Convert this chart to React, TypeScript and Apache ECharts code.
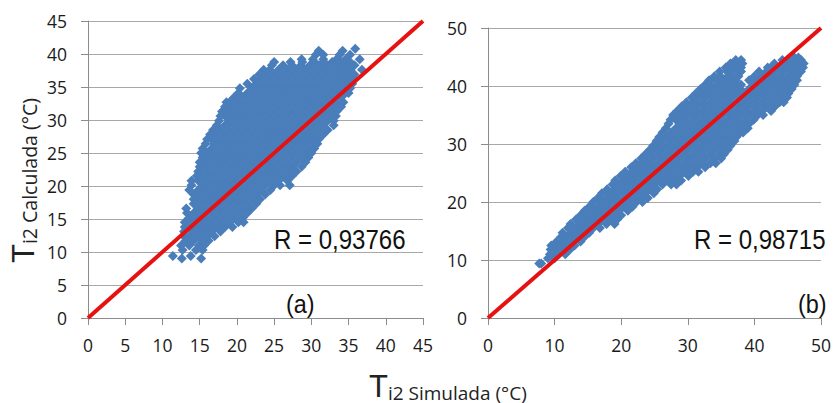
import React, { useEffect, useRef } from "react";
import * as echarts from "echarts";

const ticksA = [0, 5, 10, 15, 20, 25, 30, 35, 40, 45];
const ticksB = [0, 10, 20, 30, 40, 50];
const lineA = [[0, 0], [45, 45]];
const lineB = [[0, 0], [50, 50]];
const labelA = "R = 0,93766";
const labelB = "R = 0,98715";

// Scatter points, one [y, x values] entry per horizontal band.
const rowsA: [number, number[]][] = [
  [9.0, [12.6, 15.2]],
  [9.4, [11.4, 13.8]],
  [10.3, [12.7, 14.5, 15.4]],
  [11, [12.5, 13.6, 14.9, 15.6]],
  [11.7, [13.1, 14.2, 15.4, 16.2]],
  [12.4, [12.9, 13.6, 14.8, 16, 17.0]],
  [13.1, [12.9, 14.2, 15.4, 16.6, 17.8]],
  [13.8, [13, 13.6, 14.8, 16, 17.2, 18.4, 19.4]],
  [14.5, [13, 14.2, 15.4, 16.6, 17.8, 19, 20.2, 20.9]],
  [15.2, [13.6, 14.8, 16, 17.2, 18.4, 19.6, 20.8]],
  [15.9, [13.3, 14.2, 15.4, 16.6, 17.8, 19, 20.2, 21.4]],
  [16.6, [13.2, 14.8, 16, 17.2, 18.4, 19.6, 20.8, 22]],
  [17.3, [14.2, 15.4, 16.6, 17.8, 19, 20.2, 21.4, 22.6]],
  [18, [14.2, 14.8, 16, 17.2, 18.4, 19.6, 20.8, 22, 23.1]],
  [18.7, [14.2, 15.4, 16.6, 17.8, 19, 20.2, 21.4, 22.6, 23.8]],
  [19.4, [13.6, 14.8, 16, 17.2, 18.4, 19.6, 20.8, 22, 23.2, 24.5]],
  [20.1, [13.9, 15.4, 16.6, 17.8, 19, 20.2, 21.4, 22.6, 23.8, 25, 25.8, 27.1]],
  [20.8, [13.9, 14.8, 16, 17.2, 18.4, 19.6, 20.8, 22, 23.2, 24.4, 25.6, 26.8]],
  [21.5, [14.6, 15.4, 16.6, 17.8, 19, 20.2, 21.4, 22.6, 23.8, 25, 26.2, 27.4]],
  [22.2, [14.8, 16, 17.2, 18.4, 19.6, 20.8, 22, 23.2, 24.4, 25.6, 26.8, 28]],
  [22.9, [15, 15.4, 16.6, 17.8, 19, 20.2, 21.4, 22.6, 23.8, 25, 26.2, 27.4, 28.7]],
  [23.6, [15, 16, 17.2, 18.4, 19.6, 20.8, 22, 23.2, 24.4, 25.6, 26.8, 28, 29.2]],
  [24.3, [15.4, 16.6, 17.8, 19, 20.2, 21.4, 22.6, 23.8, 25, 26.2, 27.4, 28.6, 29.6]],
  [25, [15.2, 16, 17.2, 18.4, 19.6, 20.8, 22, 23.2, 24.4, 25.6, 26.8, 28, 29.2, 30]],
  [25.7, [15.4, 16.6, 17.8, 19, 20.2, 21.4, 22.6, 23.8, 25, 26.2, 27.4, 28.6, 29.8, 30.4]],
  [26.4, [15.8, 16.9, 17.2, 18.4, 19.6, 20.8, 22, 23.2, 24.4, 25.6, 26.8, 28, 29.2, 30.4, 30.8]],
  [27.1, [16, 16.6, 17.8, 19, 20.2, 21.4, 22.6, 23.8, 25, 26.2, 27.4, 28.6, 29.8, 31]],
  [27.8, [16.4, 17.2, 18.4, 19.6, 20.8, 22, 23.2, 24.4, 25.6, 26.8, 28, 29.2, 30.4, 31.6]],
  [28.5, [16.8, 17.8, 19, 20.2, 21.4, 22.6, 23.8, 25, 26.2, 27.4, 28.6, 29.8, 31, 32.2]],
  [29.2, [17.3, 18.4, 19.6, 20.8, 22, 23.2, 24.4, 25.6, 26.8, 28, 29.2, 30.4, 31.6, 33]],
  [29.9, [17.6, 19, 20.2, 21.4, 22.6, 23.8, 25, 26.2, 27.4, 28.6, 29.8, 31, 32.2, 33]],
  [30.6, [17.8, 18.4, 19.6, 20.8, 22, 23.2, 24.4, 25.6, 26.8, 28, 29.2, 30.4, 31.6, 32.8, 33.3]],
  [31.3, [18, 19, 20.2, 21.4, 22.6, 23.8, 25, 26.2, 27.4, 28.6, 29.8, 31, 32.2, 33.4]],
  [32, [18.4, 19.6, 20.8, 22, 23.2, 24.4, 25.6, 26.8, 28, 29.2, 30.4, 31.6, 32.8, 34]],
  [32.7, [18.6, 19, 20.2, 21.4, 22.6, 23.8, 25, 26.2, 27.4, 28.6, 29.8, 31, 32.2, 33.4, 34.3]],
  [33.4, [19.6, 20.8, 22, 23.2, 24.4, 25.6, 26.8, 28, 29.2, 30.4, 31.6, 32.8, 34]],
  [34.1, [20.2, 21.4, 22.6, 23.8, 25, 26.2, 27.4, 28.6, 29.8, 31, 32.2, 33.4, 34.6, 35]],
  [34.8, [20.4, 22, 23.2, 24.4, 25.6, 26.8, 28, 29.2, 30.4, 31.6, 32.8, 34, 35.2]],
  [35.5, [21.4, 22.6, 23.8, 25, 26.2, 27.4, 28.6, 29.8, 31, 32.2, 33.4, 34.6, 35.5]],
  [36.2, [22.3, 23.2, 24.4, 25.6, 26.8, 28, 29.2, 30.4, 31.6, 32.8, 34, 35.2, 35.8]],
  [36.9, [23, 23.8, 25, 26.2, 27.4, 28.6, 29.8, 31, 32.2, 33.4, 34.6, 35.8]],
  [37.6, [23.6, 24.4, 25.6, 26.8, 28, 29.2, 30.4, 31.6, 32.8, 34, 35.2, 36.8]],
  [38.3, [24.7, 26.2, 27.4, 28.6, 29.8, 31, 32.2, 33.4, 34.6, 35.8]],
  [38.8, [25, 27.2, 28.8, 30.4, 31.6, 32.8, 34, 35.2]],
  [39.2, [28.7, 30.2, 31.6, 33.4, 34.6, 36.5]],
  [39.9, [30.6, 31.6, 33.8, 35.2]],
  [40.5, [31, 34.2]],
  [40.8, [35.9]],
];

const rowsB: [number, number[]][] = [
  [9.4, [7.7, 8]],
  [10.3, [9, 10]],
  [11, [9.3, 10.6, 11.6]],
  [11.8, [9.4, 10, 11.3, 12.3]],
  [12.5, [9.5, 10.6, 11.9, 13]],
  [13.2, [10.3, 11.3, 12.6, 13.9]],
  [14, [11, 11.9, 13.2, 14.5]],
  [14.7, [11.2, 12.6, 13.9, 15.2]],
  [15.5, [12, 13.2, 14.5, 15.8, 16.8]],
  [16.2, [12.4, 13.9, 15.2, 16.5, 17.8, 19]],
  [17, [13.2, 14.5, 15.8, 17.1, 18.4, 19.4]],
  [17.7, [13.9, 15.2, 16.5, 17.8, 19.1, 20]],
  [18.5, [14.5, 15.8, 17.1, 18.4, 19.7, 21]],
  [19.2, [15.2, 16.5, 17.8, 19.1, 20.4, 21.7]],
  [20, [15.8, 17.1, 18.4, 19.7, 21, 22.3, 23.2]],
  [20.7, [16.5, 17.8, 19.1, 20.4, 21.7, 23, 24]],
  [21.5, [17.1, 18.4, 19.7, 21, 22.3, 23.6, 24.9]],
  [22.2, [17.9, 19.1, 20.4, 21.7, 23, 24.3, 25.4]],
  [23, [18.7, 19.7, 21, 22.3, 23.6, 24.9, 26.2, 27.5, 28.3]],
  [23.7, [19.1, 20.4, 21.7, 23, 24.3, 25.6, 26.9, 28.2, 29]],
  [24.5, [19.9, 21, 22.3, 23.6, 24.9, 26.2, 27.5, 28.8, 30.1]],
  [25.2, [20.6, 21.7, 23, 24.3, 25.6, 26.9, 28.2, 29.5, 30.8, 31.6]],
  [26, [21.5, 22.3, 23.6, 24.9, 26.2, 27.5, 28.8, 30.1, 31.4, 32.6]],
  [26.7, [22.2, 23, 24.3, 25.6, 26.9, 28.2, 29.5, 30.8, 32.1, 33.4, 34.2]],
  [27.5, [23, 23.6, 24.9, 26.2, 27.5, 28.8, 30.1, 31.4, 32.7, 34, 35]],
  [28.2, [23.6, 24.3, 25.6, 26.9, 28.2, 29.5, 30.8, 32.1, 33.4, 34.7, 35.4]],
  [29, [24.3, 24.9, 26.2, 27.5, 28.8, 30.1, 31.4, 32.7, 34, 35.3, 36]],
  [29.7, [24.8, 25.6, 26.9, 28.2, 29.5, 30.8, 32.1, 33.4, 34.7, 36, 36.4]],
  [30.5, [25.3, 26.2, 27.5, 28.8, 30.1, 31.4, 32.7, 34, 35.3, 36.6, 37]],
  [31.2, [25.7, 26.9, 28.2, 29.5, 30.8, 32.1, 33.4, 34.7, 36, 37.3]],
  [32, [26.2, 27.5, 28.8, 30.1, 31.4, 32.7, 34, 35.3, 36.6, 37.9, 38.3]],
  [32.7, [26.7, 28.2, 29.5, 30.8, 32.1, 33.4, 34.7, 36, 37.3, 38.6, 39]],
  [33.5, [27.1, 28.8, 30.1, 31.4, 32.7, 34, 35.3, 36.6, 37.9, 39.2]],
  [34.2, [27.4, 28.2, 29.5, 30.8, 32.1, 33.4, 34.7, 36, 37.3, 38.6, 39.9]],
  [35, [27.8, 28.8, 30.1, 31.4, 32.7, 34, 35.3, 36.6, 37.9, 39.2, 40.5, 41.3]],
  [35.7, [28.4, 29.5, 30.8, 32.1, 33.4, 34.7, 36, 37.3, 38.6, 39.9, 41.2, 42.5]],
  [36.5, [29.1, 30.1, 31.4, 32.7, 34, 35.3, 36.6, 37.9, 39.2, 40.5, 41.8, 43.1]],
  [37.2, [29.8, 30.8, 32.1, 33.4, 34.7, 36, 37.3, 38.6, 39.9, 41.2, 42.5, 43.8, 44.4]],
  [38, [30.6, 31.4, 32.7, 34, 35.3, 36.6, 37.9, 39.2, 40.5, 41.8, 43.1, 44.4, 44.9]],
  [38.7, [31.2, 32.1, 33.4, 34.7, 36, 37.3, 38.6, 39.9, 41.2, 42.5, 43.8, 45.1]],
  [39.5, [31.9, 32.7, 34, 35.3, 36.6, 37.9, 39.2, 40.5, 41.8, 43.1, 44.4, 45.6]],
  [40.2, [32.6, 33.4, 34.7, 36, 37.3, 38, 39.9, 41.2, 42.5, 43.8, 45.1, 46]],
  [41, [33.2, 34.2, 35.3, 36.6, 37.2, 39.2, 40.5, 41.8, 43.1, 44.4, 45.7, 46.4]],
  [41.7, [34, 34.9, 36, 37.3, 37.6, 40, 41.2, 42.5, 43.8, 45.1, 46.4]],
  [42.5, [34.8, 35.9, 36.6, 37.7, 38, 40.7, 41.8, 43.1, 44.4, 45.7, 47]],
  [43.2, [35.7, 36.5, 37.3, 38, 42, 42.5, 43.8, 45.1, 46.4, 47.3]],
  [43.9, [36.4, 37.2, 37.8, 38.2, 43, 44.4, 45.7, 46.8, 47.4]],
  [44.5, [37.2, 38, 44.2, 45.1, 46.4, 47]],
  [44.9, [46, 46.6]],
];

const toPoints = (rows: [number, number[]][]) =>
  rows.flatMap(([y, xs]) => xs.map((x) => [x, y]));

const tickFont = { fontFamily: "'Open Sans'", fontSize: 17.5, color: "#1a1a1a" };
const axisGray = "#8c8c8c";
const gridGray = "#a8a8a8";

function axis(type: "x" | "y", gridIndex: number, max: number, interval: number) {
  return {
    type: "value",
    gridIndex,
    min: 0,
    max,
    interval,
    axisLine: { show: true, onZero: false, lineStyle: { color: axisGray, width: 1 } },
    axisTick: { show: true, length: 7, lineStyle: { color: axisGray, width: 1 } },
    axisLabel: { ...tickFont, margin: type === "x" ? 18 : 21, hideOverlap: false, showMinLabel: true, showMaxLabel: true },
    splitLine: { show: type === "y", lineStyle: { color: gridGray, width: 1 } },
  };
}

function scatter(index: number, rows: [number, number[]][]) {
  return {
    type: "scatter",
    xAxisIndex: index,
    yAxisIndex: index,
    symbol: "diamond",
    symbolSize: 10,
    itemStyle: { color: "#4a7ebb", opacity: 1 },
    data: toPoints(rows),
    z: 2,
    silent: true,
  };
}

function diagonal(index: number, data: number[][]) {
  return {
    type: "line",
    xAxisIndex: index,
    yAxisIndex: index,
    showSymbol: false,
    symbol: "none",
    lineStyle: { color: "#e61212", width: 4 },
    data,
    z: 3,
    silent: true,
  };
}

const noteFont = "'Liberation Sans'";

export default function App() {
  const ref = useRef<HTMLDivElement>(null);
  useEffect(() => {
    const chart = echarts.init(ref.current!, undefined, { renderer: "svg" });
    chart.setOption({
      animation: false,
      backgroundColor: "#ffffff",
      grid: [
        { left: 88, top: 21, width: 335, height: 297 },
        { left: 488, top: 28, width: 334, height: 290 },
      ],
      xAxis: [axis("x", 0, 45, 5), axis("x", 1, 50, 10)],
      yAxis: [axis("y", 0, 45, 5), axis("y", 1, 50, 10)],
      series: [
        scatter(0, rowsA),
        diagonal(0, lineA),
        scatter(1, rowsB),
        diagonal(1, lineB),
      ],
      graphic: [
        {
          type: "text",
          x: 274,
          y: 226,
          scaleX: 0.89,
          z: 10,
          style: { text: labelA, font: `27px ${noteFont}`, fill: "#111" },
        },
        {
          type: "text",
          x: 694,
          y: 226,
          scaleX: 0.89,
          z: 10,
          style: { text: labelB, font: `27px ${noteFont}`, fill: "#111" },
        },
        {
          type: "text",
          x: 286,
          y: 291,
          scaleX: 0.9,
          z: 10,
          style: { text: "(a)", font: `26px ${noteFont}`, fill: "#111" },
        },
        {
          type: "text",
          x: 798,
          y: 291,
          scaleX: 0.9,
          z: 10,
          style: { text: "(b)", font: `26px ${noteFont}`, fill: "#111" },
        },
        {
          type: "text",
          x: 8,
          y: 263,
          rotation: Math.PI / 2,
          z: 10,
          style: {
            text: "{t|T}{s|i2 Calculada (°C)}",
            rich: {
              t: { font: `31px ${noteFont}`, fill: "#222", verticalAlign: "bottom" },
              s: { font: `19.5px 'Open Sans'`, fill: "#222", verticalAlign: "bottom" },
            },
          },
        },
        {
          type: "text",
          x: 369,
          y: 373,
          z: 10,
          style: {
            text: "{t|T}{s|i2 Simulada (°C)}",
            rich: {
              t: { font: `31px ${noteFont}`, fill: "#222", lineHeight: 29, verticalAlign: "bottom" },
              s: { font: `19px 'Open Sans'`, fill: "#222", lineHeight: 26, verticalAlign: "bottom" },
            },
          },
        },
      ],
    });
    return () => chart.dispose();
  }, []);
  return <div ref={ref} style={{ width: 834, height: 403, position: "absolute", left: 0, top: 0 }} />;
}
